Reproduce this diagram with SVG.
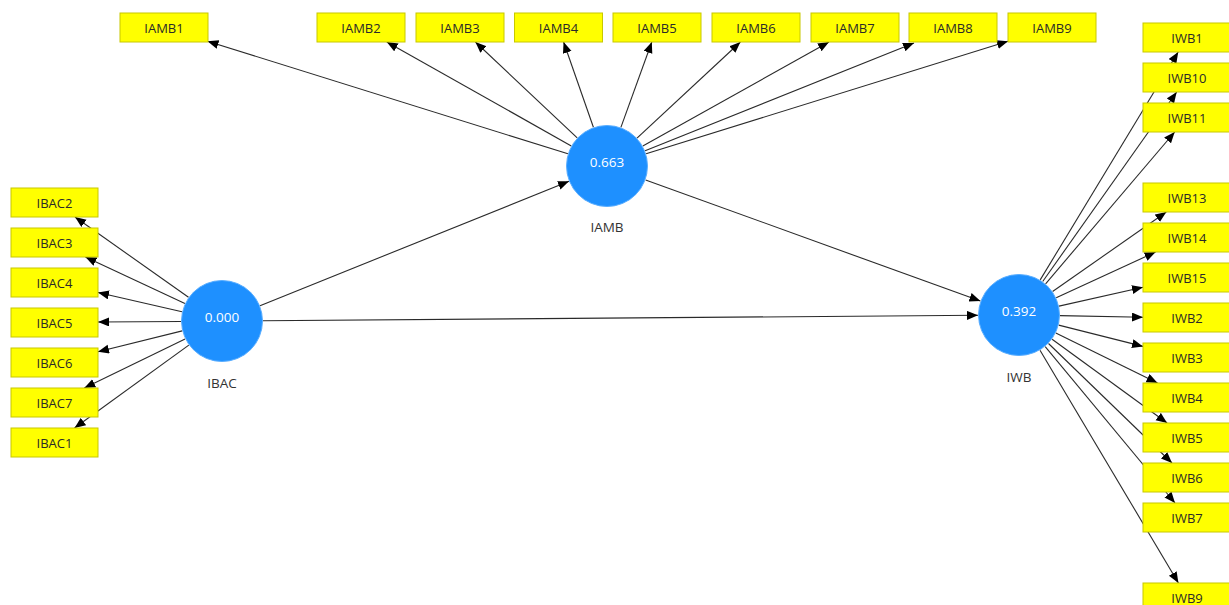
<svg xmlns="http://www.w3.org/2000/svg" width="1229" height="605" viewBox="0 0 1229 605">
<style>
.box{fill:#FFFF00;stroke:#C8C800;stroke-width:1}
.bt{font-family:"Open Sans","Noto Sans",sans-serif;font-size:13px;fill:#2a2a2a;text-anchor:middle;dominant-baseline:central}
.lv{fill:#1E90FF;stroke:#5aaeff;stroke-width:1}
.vt{font-family:"Open Sans","Noto Sans",sans-serif;font-size:13.5px;fill:#fff;text-anchor:middle;dominant-baseline:central}
.lt{font-family:"Open Sans","Noto Sans",sans-serif;font-size:13.5px;fill:#333;text-anchor:middle;dominant-baseline:central}
.c line{stroke:#2a2a2a;stroke-width:1.1;marker-end:url(#ah)}
</style>
<defs>
<marker id="ah" markerUnits="userSpaceOnUse" markerWidth="12" markerHeight="10" refX="11" refY="4.5" orient="auto">
<path d="M0,0 L11,4.5 L0,9 Z" fill="#000"/>
</marker>
</defs>
<rect width="1229" height="605" fill="#fff"/>
<g class="c" id="connectors">
<line x1="260" y1="305.7" x2="569" y2="181.3"/>
<line x1="263" y1="320.7" x2="978" y2="315.3"/>
<line x1="645.6" y1="179.9" x2="980.4" y2="301.1"/>
<line x1="188.5" y1="297.3" x2="75" y2="217"/>
<line x1="184.9" y1="303.6" x2="85.4" y2="257"/>
<line x1="182" y1="311.8" x2="98" y2="292.5"/>
<line x1="181" y1="321.5" x2="98" y2="322"/>
<line x1="182.2" y1="330.9" x2="98" y2="351.7"/>
<line x1="185.1" y1="338.9" x2="84.3" y2="388"/>
<line x1="188.8" y1="345.1" x2="74.5" y2="428"/>
<line x1="567.9" y1="153.8" x2="207.5" y2="41.2"/>
<line x1="571.3" y1="145.9" x2="386.8" y2="42"/>
<line x1="577.2" y1="137.9" x2="475.4" y2="42"/>
<line x1="593.4" y1="127.3" x2="563.6" y2="42"/>
<line x1="620.9" y1="127.4" x2="651.8" y2="42"/>
<line x1="637" y1="138.1" x2="740.4" y2="42"/>
<line x1="642.8" y1="146" x2="829" y2="42"/>
<line x1="645.1" y1="150.8" x2="914" y2="43"/>
<line x1="646.1" y1="153.8" x2="1008" y2="41.2"/>
<line x1="1040.2" y1="279.9" x2="1178.2" y2="52"/>
<line x1="1042.7" y1="281.5" x2="1176.7" y2="92"/>
<line x1="1045.6" y1="283.8" x2="1174.7" y2="132"/>
<line x1="1052.6" y1="291.5" x2="1166.3" y2="212"/>
<line x1="1056.2" y1="297.8" x2="1155.6" y2="252"/>
<line x1="1059" y1="306.1" x2="1143" y2="287.3"/>
<line x1="1060" y1="315.6" x2="1143" y2="317.3"/>
<line x1="1058.7" y1="325.1" x2="1143" y2="346.4"/>
<line x1="1055.8" y1="333.1" x2="1157.5" y2="383"/>
<line x1="1052.1" y1="339.2" x2="1167.1" y2="423"/>
<line x1="1048.5" y1="343.5" x2="1172" y2="463"/>
<line x1="1045.2" y1="346.6" x2="1175" y2="503"/>
<line x1="1040" y1="350.2" x2="1178.4" y2="583"/>
</g>
<g id="IBAC"><circle class="lv" cx="222" cy="321" r="40.5"/><text class="vt" x="222" y="317">0.000</text><text class="lt" x="222" y="383">IBAC</text></g>
<g id="IAMB"><circle class="lv" cx="607" cy="166" r="40.5"/><text class="vt" x="607" y="162">0.663</text><text class="lt" x="607" y="227">IAMB</text></g>
<g id="IWB"><circle class="lv" cx="1019" cy="315" r="40.5"/><text class="vt" x="1019" y="311">0.392</text><text class="lt" x="1019" y="377">IWB</text></g>
<g id="IBAC2"><rect class="box" x="11" y="188" width="87" height="29"/><text class="bt" x="54.5" y="202.5">IBAC2</text></g>
<g id="IBAC3"><rect class="box" x="11" y="228" width="87" height="29"/><text class="bt" x="54.5" y="242.5">IBAC3</text></g>
<g id="IBAC4"><rect class="box" x="11" y="268" width="87" height="29"/><text class="bt" x="54.5" y="282.5">IBAC4</text></g>
<g id="IBAC5"><rect class="box" x="11" y="308" width="87" height="29"/><text class="bt" x="54.5" y="322.5">IBAC5</text></g>
<g id="IBAC6"><rect class="box" x="11" y="348" width="87" height="29"/><text class="bt" x="54.5" y="362.5">IBAC6</text></g>
<g id="IBAC7"><rect class="box" x="11" y="388" width="87" height="29"/><text class="bt" x="54.5" y="402.5">IBAC7</text></g>
<g id="IBAC1"><rect class="box" x="11" y="428" width="87" height="29"/><text class="bt" x="54.5" y="442.5">IBAC1</text></g>
<g id="IAMB1"><rect class="box" x="120" y="13" width="88" height="29"/><text class="bt" x="164" y="27.5">IAMB1</text></g>
<g id="IAMB2"><rect class="box" x="317" y="13" width="88" height="29"/><text class="bt" x="361" y="27.5">IAMB2</text></g>
<g id="IAMB3"><rect class="box" x="416" y="13" width="88" height="29"/><text class="bt" x="460" y="27.5">IAMB3</text></g>
<g id="IAMB4"><rect class="box" x="514.5" y="13" width="88" height="29"/><text class="bt" x="558.5" y="27.5">IAMB4</text></g>
<g id="IAMB5"><rect class="box" x="613" y="13" width="88" height="29"/><text class="bt" x="657" y="27.5">IAMB5</text></g>
<g id="IAMB6"><rect class="box" x="712" y="13" width="88" height="29"/><text class="bt" x="756" y="27.5">IAMB6</text></g>
<g id="IAMB7"><rect class="box" x="811" y="13" width="88" height="29"/><text class="bt" x="855" y="27.5">IAMB7</text></g>
<g id="IAMB8"><rect class="box" x="909" y="13" width="88" height="29"/><text class="bt" x="953" y="27.5">IAMB8</text></g>
<g id="IAMB9"><rect class="box" x="1008" y="13" width="88" height="29"/><text class="bt" x="1052" y="27.5">IAMB9</text></g>
<g id="IWB1"><rect class="box" x="1143" y="23" width="88" height="29"/><text class="bt" x="1187" y="37.5">IWB1</text></g>
<g id="IWB10"><rect class="box" x="1143" y="63" width="88" height="29"/><text class="bt" x="1187" y="77.5">IWB10</text></g>
<g id="IWB11"><rect class="box" x="1143" y="103" width="88" height="29"/><text class="bt" x="1187" y="117.5">IWB11</text></g>
<g id="IWB13"><rect class="box" x="1143" y="183" width="88" height="29"/><text class="bt" x="1187" y="197.5">IWB13</text></g>
<g id="IWB14"><rect class="box" x="1143" y="223" width="88" height="29"/><text class="bt" x="1187" y="237.5">IWB14</text></g>
<g id="IWB15"><rect class="box" x="1143" y="263" width="88" height="29"/><text class="bt" x="1187" y="277.5">IWB15</text></g>
<g id="IWB2"><rect class="box" x="1143" y="303" width="88" height="29"/><text class="bt" x="1187" y="317.5">IWB2</text></g>
<g id="IWB3"><rect class="box" x="1143" y="343" width="88" height="29"/><text class="bt" x="1187" y="357.5">IWB3</text></g>
<g id="IWB4"><rect class="box" x="1143" y="383" width="88" height="29"/><text class="bt" x="1187" y="397.5">IWB4</text></g>
<g id="IWB5"><rect class="box" x="1143" y="423" width="88" height="29"/><text class="bt" x="1187" y="437.5">IWB5</text></g>
<g id="IWB6"><rect class="box" x="1143" y="463" width="88" height="29"/><text class="bt" x="1187" y="477.5">IWB6</text></g>
<g id="IWB7"><rect class="box" x="1143" y="503" width="88" height="29"/><text class="bt" x="1187" y="517.5">IWB7</text></g>
<g id="IWB9"><rect class="box" x="1143" y="583" width="88" height="29"/><text class="bt" x="1187" y="597.5">IWB9</text></g>
</svg>
